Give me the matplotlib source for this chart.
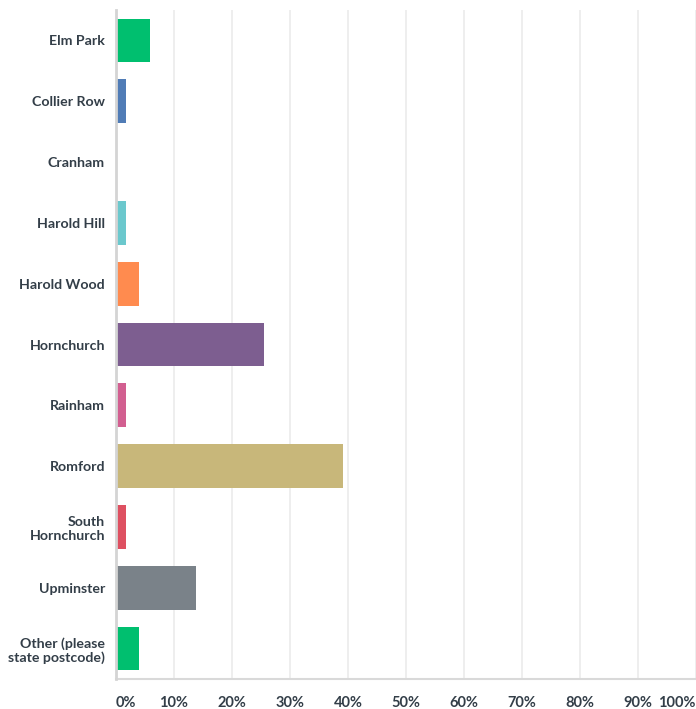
import numpy as np
import matplotlib.pyplot as plt

plt.rcParams['font.family'] = ['Lato', 'DejaVu Sans']

categories = ['Elm Park', 'Collier Row', 'Cranham', 'Harold Hill', 'Harold Wood',
              'Hornchurch', 'Rainham', 'Romford', 'South\nHornchurch', 'Upminster',
              'Other (please\nstate postcode)']
values = [5.9, 1.7, 0.0, 1.7, 3.9, 25.5, 1.7, 39.1, 1.7, 13.8, 3.9]
colors = ['#00bf6f', '#507cb6', '#f9be00', '#6bc8cd', '#ff8b4f', '#7d5e90',
          '#d25f90', '#c8b77a', '#de5061', '#7a8289', '#00bf6f']
xticks = np.arange(0, 101, 10)
xtick_labels = [f'{t}%' for t in xticks]

fig = plt.figure(figsize=(6.96, 7.09), dpi=100)
ax = fig.add_axes([116/696, 30/709, 580/696, 669/709])

y = np.arange(len(categories))
ax.barh(y, values, height=0.72, color=colors, zorder=3)

ax.set_xlim(0, 100)
ax.set_ylim(10.5, -0.5)

ax.set_yticks(y)
ax.set_yticklabels(categories, fontsize=10.2, fontweight='bold', color='#333e48',
                   multialignment='right', linespacing=1.2)
ax.tick_params(axis='y', length=0, pad=8)

ax.set_xticks(xticks)
ax.set_xticklabels(xtick_labels, fontsize=10.5, fontweight='bold', color='#333e48')
ax.tick_params(axis='x', length=0, pad=12)
labels = ax.get_xticklabels()
labels[0].set_horizontalalignment('left')
labels[-1].set_horizontalalignment('right')

ax.grid(axis='x', color='#ebebeb', linewidth=1.2, zorder=0)
for s in ['top', 'right']:
    ax.spines[s].set_visible(False)
ax.spines['left'].set_color('#d4d4d4')
ax.spines['left'].set_linewidth(2)
ax.spines['left'].set_zorder(4)
ax.spines['bottom'].set_color('#d9d9d9')
ax.spines['bottom'].set_linewidth(1.5)

plt.savefig('out.png', dpi=100)
